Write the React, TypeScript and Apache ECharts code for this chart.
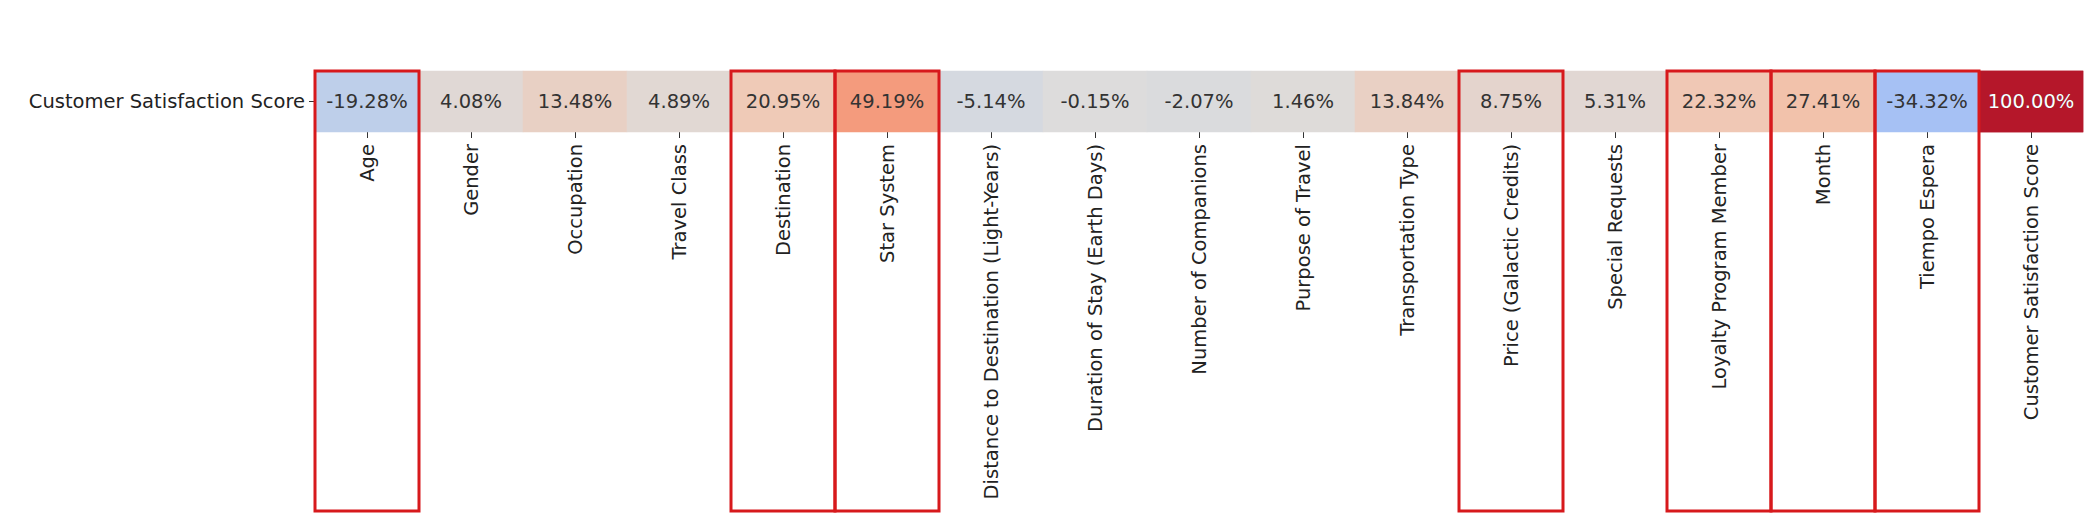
import { useEffect, useRef } from 'react';
import * as echarts from 'echarts';

const columns = [
  'Age', 'Gender', 'Occupation', 'Travel Class', 'Destination', 'Star System',
  'Distance to Destination (Light-Years)', 'Duration of Stay (Earth Days)',
  'Number of Companions', 'Purpose of Travel', 'Transportation Type',
  'Price (Galactic Credits)', 'Special Requests', 'Loyalty Program Member',
  'Month', 'Tiempo Espera', 'Customer Satisfaction Score',
];
const rowLabel = 'Customer Satisfaction Score';
const correlations = [
  -19.28, 4.08, 13.48, 4.89, 20.95, 49.19, -5.14, -0.15, -2.07, 1.46,
  13.84, 8.75, 5.31, 22.32, 27.41, -34.32, 100.0,
];
// columns marked with red boxes
const highlighted = [
  'Age', 'Destination', 'Star System', 'Price (Galactic Credits)',
  'Loyalty Program Member', 'Month', 'Tiempo Espera',
];

const coolwarm = [
  '#3b4cc0', '#6282ea', '#8db0fe', '#b5cbee', '#dddcdc',
  '#f2c6b0', '#f49a7b', '#de604d', '#b5172a',
];

const FONT = 'DejaVu Sans';

export default function App() {
  const chartRef = useRef<HTMLDivElement>(null);

  useEffect(() => {
    document.body.style.margin = '0';
    if (!chartRef.current) return;
    const chart = echarts.init(chartRef.current, undefined, { renderer: 'svg' });

    const option: echarts.EChartsOption = {
      animation: false,
      grid: { left: 315, right: 4, top: 71, height: 61 },
      xAxis: {
        type: 'category',
        data: columns,
        position: 'bottom',
        axisLine: { show: false },
        axisTick: { show: true, length: 6, alignWithLabel: true, lineStyle: { color: '#333' } },
        axisLabel: {
          rotate: 90,
          interval: 0,
          fontFamily: FONT,
          fontSize: 19.5,
          color: '#222',
          margin: 12,
        },
        splitLine: { show: false },
      },
      yAxis: {
        type: 'category',
        data: [rowLabel],
        axisLine: { show: false },
        axisTick: { show: true, length: 6, alignWithLabel: true, lineStyle: { color: '#333' } },
        axisLabel: { fontFamily: FONT, fontSize: 19.5, color: '#222', margin: 10 },
      },
      visualMap: {
        show: false,
        min: -100,
        max: 100,
        dimension: 2,
        inRange: { color: coolwarm },
      },
      series: [
        {
          type: 'heatmap',
          data: correlations.map((v, i) => [i, 0, v]),
          label: {
            show: true,
            fontFamily: FONT,
            fontSize: 19.5,
            formatter: (p: any) => `${p.value[2].toFixed(2)}%`,
            color: '#333',
          },
          itemStyle: { borderWidth: 0 },
        },
        {
          // white label on the dark cell
          type: 'heatmap',
          data: correlations.map((v, i) => [i, 0, v]).filter((d) => Math.abs(d[2]) > 70),
          label: {
            show: true,
            fontFamily: FONT,
            fontSize: 19.5,
            formatter: (p: any) => `${p.value[2].toFixed(2)}%`,
            color: '#fff',
          },
        },
      ],
    };
    chart.setOption(option);

    // red boxes around the highlighted columns
    const p0 = chart.convertToPixel({ gridIndex: 0 } as any, [0, 0]) as number[];
    const p1 = chart.convertToPixel({ gridIndex: 0 } as any, [1, 0]) as number[];
    const cellW = p1[0] - p0[0];
    const rects = highlighted.map((name) => {
      const idx = columns.indexOf(name);
      const c = chart.convertToPixel({ gridIndex: 0 } as any, [idx, 0]) as number[];
      return {
        type: 'rect',
        shape: { x: c[0] - cellW / 2, y: 71, width: cellW, height: 440 },
        style: { fill: 'none', stroke: '#d7191c', lineWidth: 3 },
        z: 100,
      };
    });
    chart.setOption({ graphic: rects });

    return () => chart.dispose();
  }, []);

  return <div ref={chartRef} style={{ width: 2087, height: 519 }} />;
}
